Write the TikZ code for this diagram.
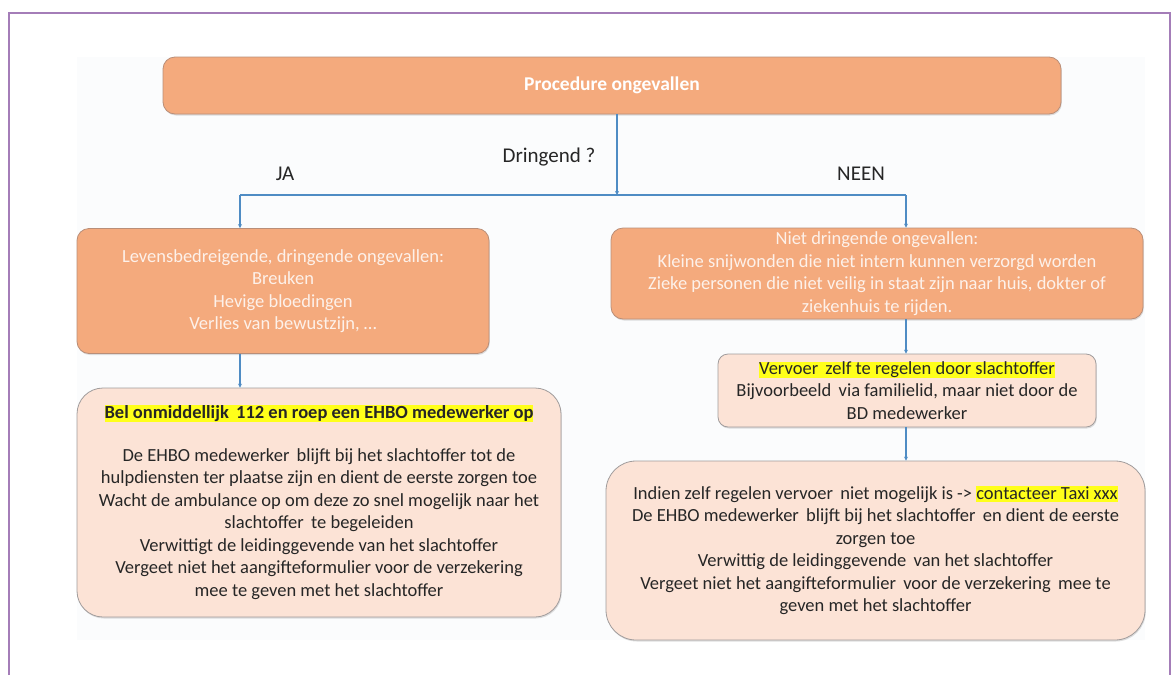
\documentclass[tikz,border=0pt]{standalone}
\usepackage{fontspec}
\setmainfont{Carlito}
\usetikzlibrary{arrows.meta,shadows}
\definecolor{framec}{HTML}{A47DB8}
\definecolor{orfill}{HTML}{F4AA7D}
\definecolor{ordraw}{HTML}{B98E78}
\definecolor{pkfill}{HTML}{FCE3D6}
\definecolor{pkdraw}{HTML}{A09C9C}
\definecolor{conn}{HTML}{4F8CC4}
\definecolor{hlyel}{HTML}{FFFF1A}
\definecolor{txt}{HTML}{262626}
\definecolor{bgc}{HTML}{FBFCFD}
\definecolor{ortxt}{HTML}{FDF1EA}
\newcommand\hlt[1]{{\setlength{\fboxsep}{0pt}\colorbox{hlyel}{\vphantom{Ag}#1}}}
\begin{document}
\begin{tikzpicture}[x=1pt,y=-1pt,
  orbox/.style={draw=ordraw, fill=orfill, line width=0.8pt, rounded corners=12pt,
    inner sep=0pt, align=center, text=ortxt, font=\fontsize{18.5}{22.5}\selectfont,
    drop shadow={shadow xshift=0.8pt, shadow yshift=-1.5pt, opacity=0.25}},
  pkbox/.style={draw=pkdraw, fill=pkfill, line width=0.8pt,
    inner sep=0pt, align=center, text=txt, font=\fontsize{18.5}{22.5}\selectfont,
    drop shadow={shadow xshift=0.8pt, shadow yshift=-1.5pt, opacity=0.25}},
  lbl/.style={text=txt, font=\fontsize{21}{24}\selectfont, inner sep=0pt},
  conline/.style={draw=conn, line width=1.3pt},
  arr/.style={conline, -{Stealth[length=4pt,width=4pt]}}]
\useasboundingbox (0,0) rectangle (1174,675);
\fill[white] (0,0) rectangle (1174,675);
\fill[bgc] (77,57) rectangle (1145,640);
\draw[framec, line width=2pt] (9,675) -- (9,13) -- (1170,13) -- (1170,675);

\node[orbox, minimum width=898pt, minimum height=57pt, text=white,
  font=\fontsize{19.5}{22}\selectfont\bfseries] (top) at (612,85.5) {Procedure ongevallen};

\node[orbox, minimum width=412pt, minimum height=125pt] (lorange) at (283,291)
  {Levensbedreigende, dringende ongevallen:\\ Breuken\\ Hevige bloedingen\\ Verlies van bewustzijn, \dots};

\node[orbox, minimum width=532pt, minimum height=91pt] (rorange) at (877,273.5)
  {Niet dringende ongevallen:\\ Kleine snijwonden die niet intern kunnen verzorgd worden\\
   Zieke personen die niet veilig in staat zijn naar huis, dokter of\\ ziekenhuis te rijden.};

\node[pkbox, rounded corners=26pt, minimum width=484pt, minimum height=229pt] (lpink) at (319,502.5)
  {\textbf{\hlt{Bel onmiddellijk\, 112 en roep een EHBO medewerker op}}\\[20.5pt]
   De EHBO medewerker\, blijft bij het slachtoffer tot de\\
   hulpdiensten ter plaatse zijn en dient de eerste zorgen toe\\
   Wacht de ambulance op om deze zo snel mogelijk naar het\\
   slachtoffer\, te begeleiden\\
   Verwittigt de leidinggevende van het slachtoffer\\
   Vergeet niet het aangifteformulier voor de verzekering\\
   mee te geven met het slachtoffer};

\node[pkbox, rounded corners=10pt, minimum width=378pt, minimum height=73pt] (spink) at (907,390.5)
  {\hlt{Vervoer\, zelf te regelen door slachtoffer}\\
   Bijvoorbeeld\, via familielid, maar niet door de\\ BD medewerker};

\node[pkbox, rounded corners=30pt, minimum width=539pt, minimum height=179pt] (rpink) at (875.5,550.5)
  {Indien zelf regelen vervoer\, niet mogelijk is -> \hlt{contacteer Taxi xxx}\\
   De EHBO medewerker\, blijft bij het slachtoffer\, en dient de eerste\\
   zorgen toe\\
   Verwittig de leidinggevende\, van het slachtoffer\\
   Vergeet niet het aangifteformulier\, voor de verzekering\, mee te\\
   geven met het slachtoffer};

\node[lbl] (q) at (549,157) {Dringend ?};
\node[lbl] (ja) at (285,174) {JA};
\node[lbl] (neen) at (861,174) {NEEN};

\coordinate (split) at (617,195);
\coordinate (ljoin) at (240,195);
\coordinate (rjoin) at (906,195);
\draw[arr] (top.south -| split) -- (split);
\draw[conline] (ljoin) -- (rjoin);
\draw[arr] (ljoin) -- (ljoin |- lorange.north);
\draw[arr] (rjoin) -- (rjoin |- rorange.north);
\draw[arr] (lorange.south -| ljoin) -- (lpink.north -| ljoin);
\draw[arr] (rorange.south -| rjoin) -- (spink.north -| rjoin);
\draw[arr] (spink.south -| rjoin) -- (rpink.north -| rjoin);
\end{tikzpicture}
\end{document}
